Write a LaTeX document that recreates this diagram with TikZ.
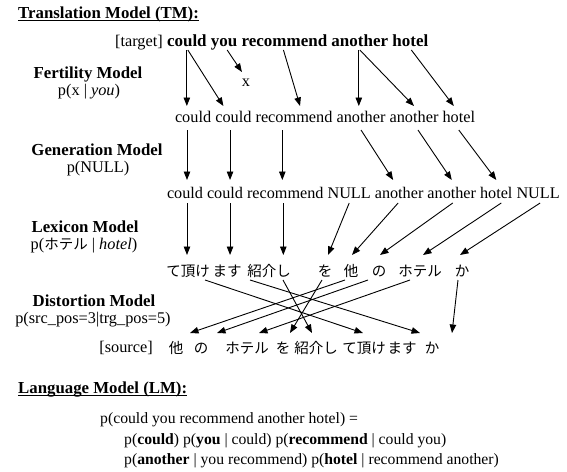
\documentclass[tikz,border=0pt]{standalone}
\usepackage{fontspec}
\setmainfont{Liberation Serif}
\newfontfamily\jf{Noto Sans CJK JP}
\usetikzlibrary{arrows.meta}
\newcommand\txtsize{\fontsize{16.3}{19}\selectfont}
\newcommand\hdsize{\fontsize{16.8}{20}\selectfont}
\newcommand\lmsize{\fontsize{15.7}{18}\selectfont}
\begin{document}
\begin{tikzpicture}[x=1pt,y=-1pt,
  arr/.style={-{Triangle[length=8.5pt,width=6.5pt]}, line width=0.9pt},
  lbl/.style={inner sep=0pt, anchor=base, font=\hdsize\bfseries},
  sub/.style={inner sep=0pt, anchor=base, font=\txtsize},
  hd/.style={inner sep=0pt, anchor=base west, font=\hdsize\bfseries},
  tgt/.style={inner sep=0pt, outer sep=0pt, anchor=base west, font=\fontsize{17}{20}\selectfont\bfseries,
              text height=11pt, text depth=3pt, outer ysep=1pt},
  wb/.style={inner sep=0pt, outer sep=0pt, anchor=base west, font=\txtsize,
              text height=11pt, text depth=3pt, outer ysep=5pt},
  wc/.style={inner sep=0pt, outer sep=0pt, anchor=base west, font=\fontsize{16.2}{19}\selectfont,
              text height=16pt, text depth=3pt, outer ysep=2pt},
  jw/.style={inner sep=0pt, outer sep=0pt, anchor=base, font=\fontsize{14.5}{17}\selectfont\jf,
              text height=19pt, text depth=2pt, outer ysep=2pt},
  sw/.style={inner sep=0pt, outer sep=0pt, anchor=base, font=\fontsize{14.5}{17}\selectfont\jf,
              text height=18pt, text depth=2pt, outer ysep=2pt},
  line/.style={inner sep=0pt, anchor=base west, font=\lmsize}]
\useasboundingbox[fill=white] (0,0) rectangle (567,471);

% ---------- translation model heading ----------
\node[hd] (tm) at (18,18) {Translation Model (TM):};
\draw[line width=1pt] ([yshift=-2pt]tm.base west) -- ([yshift=-2pt]tm.base east);

% ---------- side labels ----------
\node[sub, anchor=base east] (tlab) at (163,46) {[target]};
\node[lbl] (fert) at (88,78) {Fertility Model};
\node[sub] (fertp) at (89,95) {p(x | \textit{you})};
\node[lbl] (gen) at (97,155) {Generation Model};
\node[sub] (genp) at (98,172) {p(NULL)};
\node[lbl] (lex) at (85,232) {Lexicon Model};
\node[sub] (lexp) at (84,249) {p({\jf\fontsize{14.5}{17}\selectfont ホテル} | \textit{hotel})};
\node[lbl] (dist) at (94,306) {Distortion Model};
\node[sub] (distp) at (93,323) {p(src\_pos=3|trg\_pos=5)};
\node[sub, anchor=base east] (slab) at (153,352) {[source]};

% ---------- target sentence ----------
\node[tgt] (a1) at (167,46) {could};
\node[tgt] (a2) at ([xshift=4.25pt]a1.base east) {you};
\node[tgt] (a3) at ([xshift=4.25pt]a2.base east) {recommend};
\node[tgt] (a4) at ([xshift=4.25pt]a3.base east) {another};
\node[tgt] (a5) at ([xshift=4.25pt]a4.base east) {hotel};

% dropped word
\node[inner sep=0pt, outer sep=0pt, anchor=base, font=\txtsize, text height=12pt, outer ysep=2pt] (xw) at (246,86) {x};

% ---------- after fertility ----------
\node[wb] (b1) at (175,122) {could};
\node[wb] (b2) at ([xshift=4.075pt]b1.base east) {could};
\node[wb] (b3) at ([xshift=4.075pt]b2.base east) {recommend};
\node[wb] (b4) at ([xshift=4.075pt]b3.base east) {another};
\node[wb] (b5) at ([xshift=4.075pt]b4.base east) {another};
\node[wb] (b6) at ([xshift=4.075pt]b5.base east) {hotel};

% ---------- after NULL generation ----------
\node[wc] (c1) at (167,198) {could};
\node[wc] (c2) at ([xshift=4.05pt]c1.base east) {could};
\node[wc] (c3) at ([xshift=4.05pt]c2.base east) {recommend};
\node[wc] (c4) at ([xshift=4.05pt]c3.base east) {NULL};
\node[wc] (c5) at ([xshift=4.05pt]c4.base east) {another};
\node[wc] (c6) at ([xshift=4.05pt]c5.base east) {another};
\node[wc] (c7) at ([xshift=4.05pt]c6.base east) {hotel};
\node[wc] (c8) at ([xshift=4.05pt]c7.base east) {NULL};

% ---------- lexical translation ----------
\node[jw] (j1) at (188,276) {て頂け};
\node[jw] (j2) at (227,276) {ます};
\node[jw] (j3) at (269,276) {紹介し};
\node[jw] (j4) at (325,276) {を};
\node[jw] (j5) at (351,276) {他};
\node[jw] (j6) at (379,276) {の};
\node[jw] (j7) at (420,276) {ホテル};
\node[jw] (j8) at (462,276) {か};

% ---------- source sentence ----------
\node[sw] (s1) at (176,353) {他};
\node[sw] (s2) at (201,353) {の};
\node[sw] (s3) at (247,353) {ホテル};
\node[sw] (s4) at (283,353) {を};
\node[sw] (s5) at (316,353) {紹介し};
\node[sw] (s6) at (364,353) {て頂け};
\node[sw] (s7) at (402,353) {ます};
\node[sw] (s8) at (432,353) {か};

% ---------- fertility arrows ----------
\draw[arr] (a1.south) -- (a1.south |- b1.north);
\draw[arr] ([xshift=1pt]a1.south) -- ([xshift=-10pt]b2.north);
\draw[arr] ([xshift=3pt]a2.south) -- (xw.north west);
\draw[arr] ([xshift=-1pt]a3.south) -- ([xshift=6pt]b3.north);
\draw[arr] ([xshift=-1pt]a4.south) -- ([xshift=-1pt]a4.south |- b4.north);
\draw[arr] (a4.south) -- (b5.north);
\draw[arr] ([xshift=1pt]a5.south) -- ([xshift=-5pt]b6.north);

% ---------- generation arrows ----------
\draw[arr] ([xshift=2pt]c1.north |- b1.south) -- ([xshift=2pt]c1.north);
\draw[arr] ([xshift=5pt]c2.north |- b2.south) -- ([xshift=5pt]c2.north);
\draw[arr] ([xshift=-3pt]c3.north |- b3.south) -- ([xshift=-3pt]c3.north);
\draw[arr] (b4.south) -- ([xshift=-6pt]c5.north);
\draw[arr] ([xshift=4pt]b5.south) -- (c6.north);
\draw[arr] (b6.south) -- (c7.north);

% ---------- lexicon arrows ----------
\draw[arr] ([xshift=2pt]c1.south) -- ([xshift=2pt]c1.south |- j1.north);
\draw[arr] ([xshift=5pt]c2.south) -- ([xshift=5pt]c2.south |- j2.north);
\draw[arr] ([xshift=-2pt]c3.south) -- ([xshift=-2pt]c3.south |- j3.north);
\draw[arr] (c4.south) -- ([xshift=3pt]j4.north);
\draw[arr] ([xshift=-1pt]c5.south) -- ([xshift=1pt]j5.north);
\draw[arr] ([xshift=1pt]c6.south) -- ([xshift=1pt]j6.north);
\draw[arr] ([xshift=5pt]c7.south) -- ([xshift=3pt]j7.north);
\draw[arr] ([xshift=2pt]c8.south) -- ([xshift=-2pt]j8.north);

% ---------- distortion arrows ----------
\draw[arr] ([xshift=17pt]j1.south) -- ([xshift=-1pt]s6.north);
\draw[arr] ([xshift=23pt]j2.south) -- ([xshift=18pt]s7.north);
\draw[arr] ([xshift=14pt]j3.south) -- ([xshift=-4pt]s5.north);
\draw[arr] ([xshift=-3pt]j4.south) -- ([xshift=7pt]s4.north);
\draw[arr] ([xshift=-6pt]j5.south) -- ([xshift=14pt]s1.north);
\draw[arr] ([xshift=-11pt]j6.south) -- ([xshift=16pt]s2.north);
\draw[arr] ([xshift=-10pt]j7.south) -- ([xshift=12pt]s3.north);
\draw[arr] ([xshift=-4pt]j8.south) -- ([xshift=20pt]s8.north);

% ---------- language model ----------
\node[hd] (lm) at (18,393.5) {Language Model (LM):};
\draw[line width=1pt] ([yshift=-2pt]lm.base west) -- ([yshift=-2pt]lm.base east);
\node[line] (f1) at (100,423) {p(could you recommend another hotel) =};
\node[line] (f2) at (124,444) {p(\textbf{could}) p(\textbf{you} | could) p(\textbf{recommend} | could you)};
\node[line] (f3) at (124,464) {p(\textbf{another} | you recommend) p(\textbf{hotel} | recommend another)};
\end{tikzpicture}
\end{document}
